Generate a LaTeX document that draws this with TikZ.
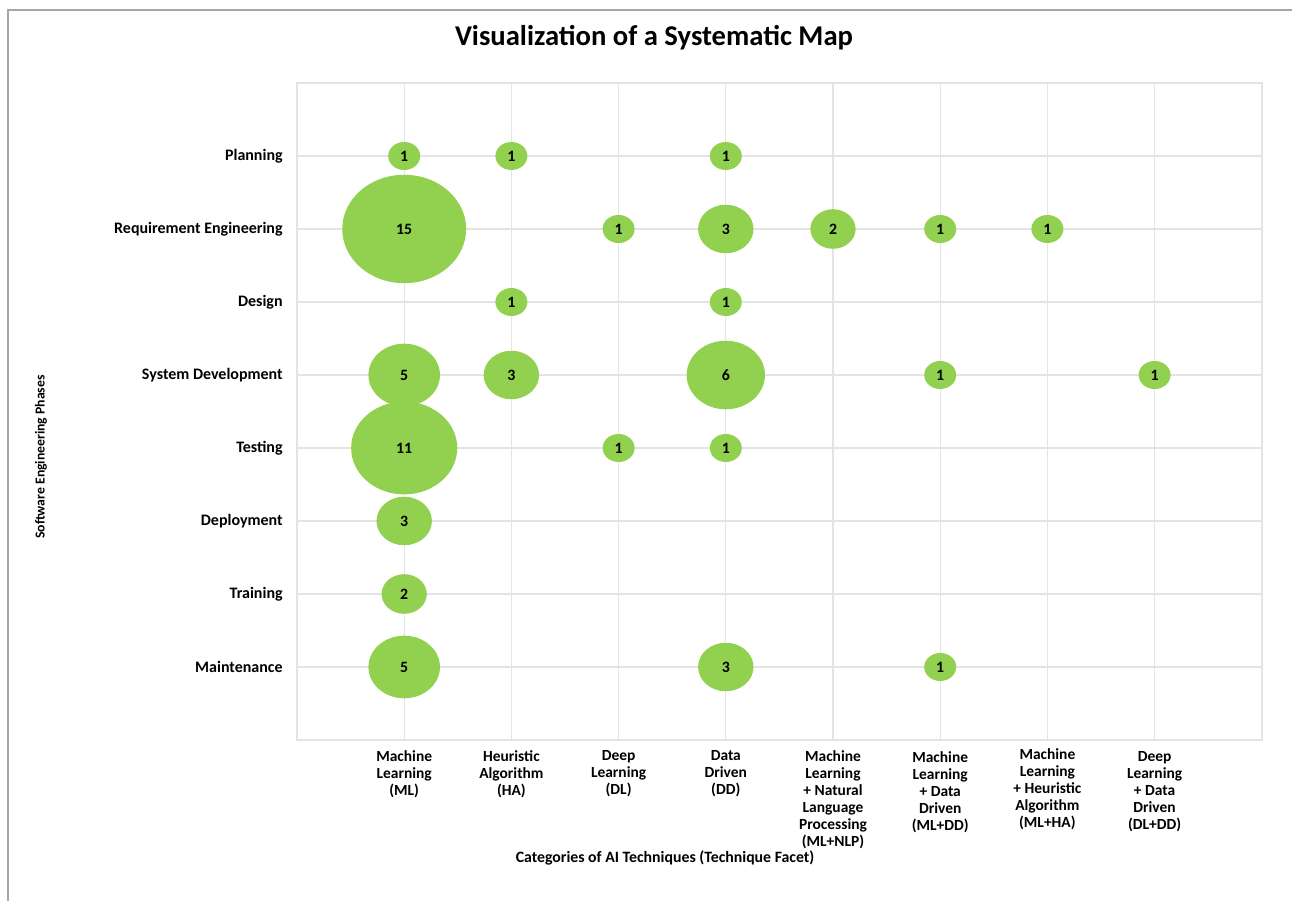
\documentclass[tikz,border=0pt]{standalone}
\usepackage{fontspec}
\setmainfont{Carlito}
\usetikzlibrary{shapes.geometric}
\definecolor{bubgreen}{HTML}{92D050}
\definecolor{gridcol}{HTML}{E4E4E4}
\definecolor{framecol}{HTML}{A6A6A6}
\tikzset{
  bub/.style={ellipse, fill=bubgreen, inner sep=0pt, font=\bfseries\fontsize{9}{10}\selectfont},
  rowlab/.style={anchor=east, inner sep=0pt, font=\bfseries\fontsize{9.1}{10}\selectfont},
  collab/.style={anchor=north, inner sep=0pt, align=center, font=\bfseries\fontsize{8.8}{9.7}\selectfont},
  axtitle/.style={inner sep=0pt, font=\bfseries\fontsize{9}{10}\selectfont},
  gridline/.style={draw=gridcol, line width=0.6pt}
}
\begin{document}
\begin{tikzpicture}[x=0.02cm,y=-0.02cm]
\useasboundingbox (0,0) rectangle (1292,901);
% outer frame
\draw[framecol, line width=1.1pt] (8,901) -- (8,10) -- (1292,10);
% title
\node[inner sep=0pt, font=\bfseries\fontsize{16.3}{19}\selectfont] (title) at (654,38) {Visualization of a Systematic Map};
% grid
\foreach \i in {1,...,8} {
  \draw[gridline] ({297+107.2*\i},83) -- ({297+107.2*\i},740);
  \draw[gridline] (297,{83+73*\i}) -- (1262,{83+73*\i});
}
\draw[gridline] (297,83) rectangle (1262,740);
% row labels
\foreach \r/\name in {1/Planning,2/Requirement Engineering,3/Design,4/System Development,5/Testing,6/Deployment,7/Training,8/Maintenance} {
  \node[rowlab] (r\r) at (283,{83+73*\r}) {\name};
}
% column labels
\node[collab] (c1) at ({297+107.2*1},750) {Machine\\Learning\\(ML)};
\node[collab] (c2) at ({297+107.2*2},750) {Heuristic\\Algorithm\\(HA)};
\node[collab] (c3) at ({297+107.2*3},750) {Deep\\Learning\\(DL)};
\node[collab] (c4) at ({297+107.2*4},750) {Data\\Driven\\(DD)};
\node[collab] (c5) at ({297+107.2*5},750) {Machine\\Learning\\+ Natural\\Language\\Processing\\(ML+NLP)};
\node[collab] (c6) at ({297+107.2*6},751) {Machine\\Learning\\+ Data\\Driven\\(ML+DD)};
\node[collab] (c7) at ({297+107.2*7},748) {Machine\\Learning\\+ Heuristic\\Algorithm\\(ML+HA)};
\node[collab] (c8) at ({297+107.2*8},751) {Deep\\Learning\\+ Data\\Driven\\(DL+DD)};
% axis titles
\node[axtitle] (xtitle) at (665,858) {Categories of AI Techniques (Technique Facet)};
\node[axtitle, rotate=90, font=\bfseries\fontsize{7.8}{9}\selectfont] (ytitle) at (41,457) {Software Engineering Phases};
% bubbles
\foreach \r/\c/\n in {1/1/1,1/2/1,1/4/1,
  2/1/15,2/3/1,2/4/3,2/5/2,2/6/1,2/7/1,
  3/2/1,3/4/1,
  4/1/5,4/2/3,4/4/6,4/6/1,4/8/1,
  5/1/11,5/3/1,5/4/1,
  6/1/3,
  7/1/2,
  8/1/5,8/4/3,8/6/1} {
  \node[bub, minimum width={0.64cm*sqrt(\n)}, minimum height={0.56cm*sqrt(\n)}] (b\r-\c) at ({297+107.2*\c},{83+73*\r}) {\n};
}
\end{tikzpicture}
\end{document}
